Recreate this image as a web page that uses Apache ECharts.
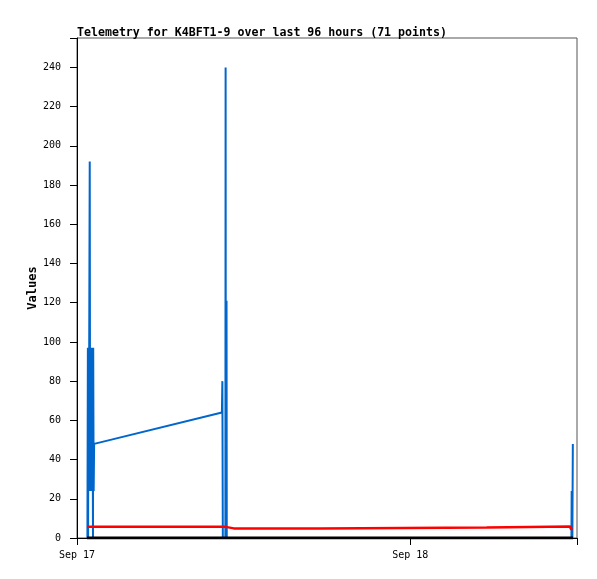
<!DOCTYPE html>
<html>
<head>
<meta charset="utf-8">
<script src="https://cdn.jsdelivr.net/npm/echarts@6/dist/echarts.min.js"></script>
<style>
  html, body { margin: 0; padding: 0; background: #fff; }
  #chart { width: 597px; height: 579px; }
</style>
</head>
<body>
<div id="chart"></div>
<script>
// times are minutes after Sep 17 00:00
const dayLabels = ['Sep 17', 'Sep 18']
const yTicks = [0, 20, 40, 60, 80, 100, 120, 140, 160, 180, 200, 220, 240]

const blueTimes = [45, 47, 48, 49, 51, 55, 56, 57, 59, 61, 63, 65, 67, 69, 70, 72, 74, 626, 628, 630, 641, 642, 643, 646, 647, 2136, 2137, 2140, 2142]
const blueValues = [0, 97, 0, 97, 24, 192, 97, 24, 97, 24, 97, 24, 97, 0, 97, 24, 48, 64, 80, 0, 0, 240, 0, 121, 0, 0, 24, 0, 48]

const redTimes = [43, 636, 638, 678, 681, 684, 1050, 1052, 1770, 1772, 2131, 2133, 2141]
const redValues = [5.8, 5.8, 4.9, 4.9, 5.8, 4.9, 4.9, 5.4, 5.4, 5.9, 5.9, 4.6, 4.6]

const blackTimes = [43, 640, 1050, 1770, 2143]
const blackValues = [0, 0, 0, 0, 0]

const zip = (t, v) => t.map((x, i) => [x, v[i]])
const font = '"DejaVu Sans Mono", "Liberation Mono", monospace'

const chart = echarts.init(document.getElementById('chart'))
chart.setOption({
  animation: false,
  backgroundColor: '#fff',
  title: {
    text: 'Telemetry for K4BFT1-9 over last 96 hours (71 points)',
    left: 72, top: 22,
    textStyle: { fontFamily: font, fontSize: 11.6, fontWeight: 'bold', color: '#000' },
  },
  grid: { left: 77, right: 20, top: 38, bottom: 41, show: true, borderColor: '#555', borderWidth: 1 },
  xAxis: {
    type: 'value', min: 0, max: 2160, interval: 1440,
    axisLine: { lineStyle: { color: '#000', width: 1 } },
    axisTick: { length: 7, lineStyle: { color: '#000' } },
    axisLabel: { color: '#000', fontFamily: font, fontSize: 10, margin: 12, formatter: v => dayLabels[v / 1440] || '' },
    splitLine: { show: false },
  },
  yAxis: {
    type: 'value', min: 0, max: 255, interval: 20,
    name: 'Values', nameLocation: 'middle', nameGap: 38,
    nameMoveOverlap: false,
    nameTextStyle: { fontFamily: font, fontSize: 12, fontWeight: 'bold', color: '#000' },
    axisLine: { show: true, lineStyle: { color: '#000', width: 1 } },
    axisTick: { show: true, length: 7, lineStyle: { color: '#000', width: 1 } },
    axisLabel: { color: '#000', fontFamily: font, fontSize: 10, margin: 16, formatter: v => yTicks.includes(v) ? String(v) : '' },
    splitLine: { show: false },
  },
  series: [
    { name: 'blue', type: 'line', data: zip(blueTimes, blueValues), showSymbol: false, lineStyle: { color: '#0066cc', width: 2 }, z: 2 },
    { name: 'red', type: 'line', data: zip(redTimes, redValues), showSymbol: false, lineStyle: { color: '#ff0000', width: 2.5 }, z: 3 },
    { name: 'black', type: 'line', data: zip(blackTimes, blackValues), showSymbol: false, lineStyle: { color: '#000', width: 3 }, z: 4 },
  ],
})
</script>
</body>
</html>
